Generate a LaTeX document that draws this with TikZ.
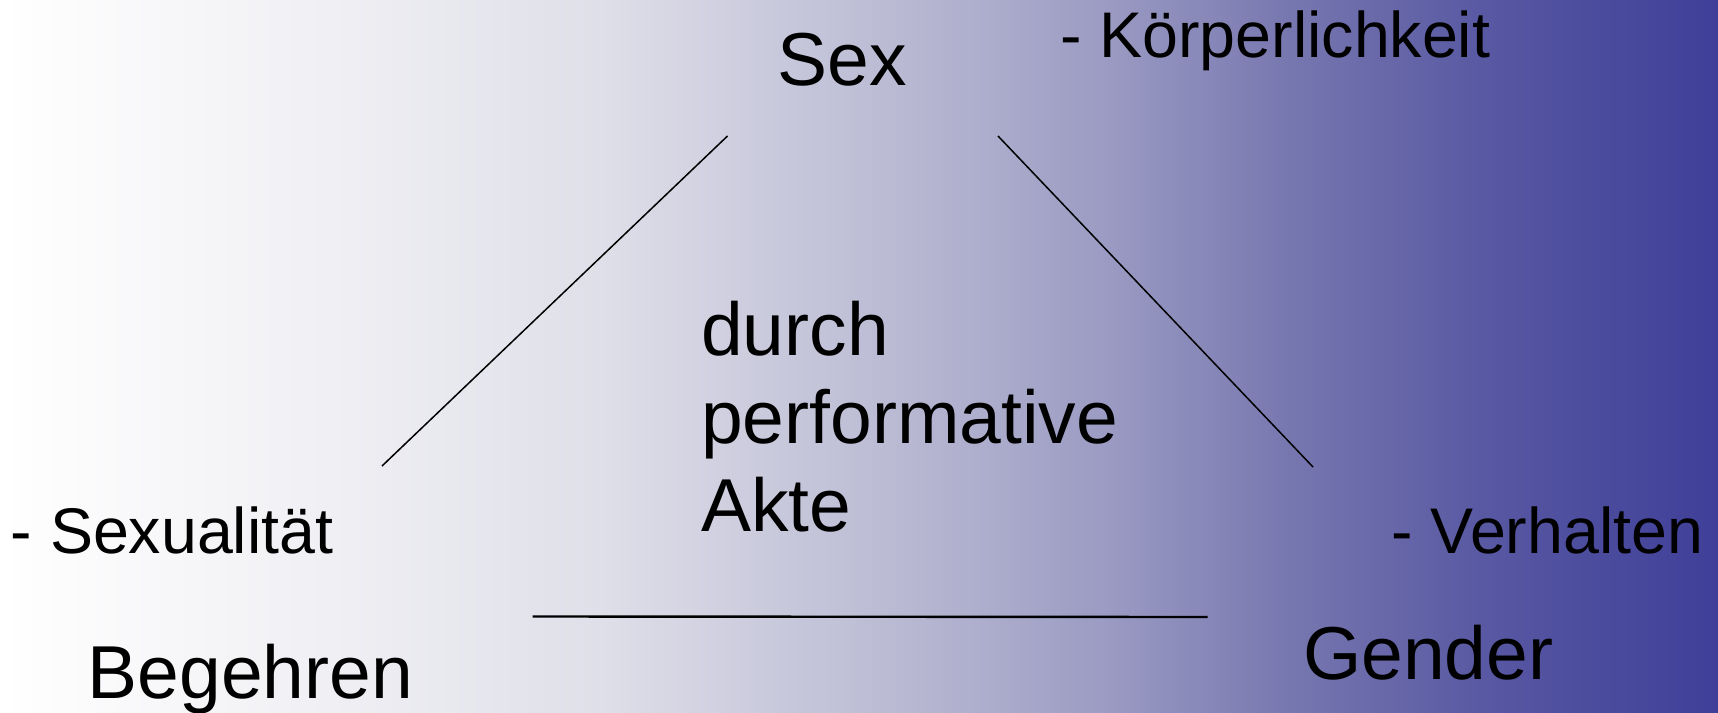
\documentclass[tikz,border=0pt]{standalone}
\usepackage{fontspec}
\setmainfont{Liberation Sans}
% background: white on the left, deepening to indigo on the right
% (the path is fitted to the 25bp..75bp band of the shading)
\pgfdeclarehorizontalshading{bgshade}{100bp}{%
  color(0bp)=(white);
  color(25bp)=(white);
  color(33.75bp)=(rgb,255:red,241;green,241;blue,245);
  color(42.5bp)=(rgb,255:red,223;green,223;blue,233);
  color(51.2bp)=(rgb,255:red,185;green,185;blue,211);
  color(57bp)=(rgb,255:red,156;green,156;blue,196);
  color(62.85bp)=(rgb,255:red,117;green,117;blue,175);
  color(68.65bp)=(rgb,255:red,86;green,86;blue,162);
  color(75bp)=(rgb,255:red,63;green,63;blue,153);
  color(100bp)=(rgb,255:red,63;green,63;blue,153)}
\begin{document}
\begin{tikzpicture}[x=1pt,y=-1pt,
  bigtext/.style={anchor=base west,inner sep=0pt,font=\fontsize{75}{88}\selectfont},
  smalltext/.style={anchor=base west,inner sep=0pt,font=\fontsize{64.5}{77}\selectfont},
  edge/.style={draw=black,line width=1.5pt},
  baseedge/.style={draw=black,line width=2.4pt}]
  \useasboundingbox (0,0) rectangle (1718,712);
  \shade[shading=bgshade] (0,0) rectangle (1718,712);

  % corner terms
  \node[bigtext] (sex) at (777.5,85) {Sex};
  \node[bigtext] (begehren) at (87.5,698) {Begehren};
  \node[bigtext] (gender) at (1303,679) {Gender};

  % attributes
  \node[smalltext] (koerper) at (1060,57) {- Körperlichkeit};
  \node[smalltext] (sexualitaet) at (10.5,553) {- Sexualität};
  \node[smalltext] (verhalten) at (1391,553) {- Verhalten};

  % centre (base anchor sits on the last line)
  \node[anchor=base west,inner sep=0pt,align=left,
        font=\fontsize{75}{87.7}\selectfont] (akte) at (701,531)
        {durch\\performative\\Akte};

  % triangle sides
  \coordinate (sexL) at (727.5,136);
  \coordinate (sexR) at (998,136);
  \coordinate (begT) at (382,466);
  \coordinate (genT) at (1313,467);
  \coordinate (begR) at (532.5,616.5);
  \coordinate (genL) at (1207.5,617);
  \draw[edge] (sexL) -- (begT);
  \draw[edge] (sexR) -- (genT);
  \draw[baseedge] (begR) -- (genL);
\end{tikzpicture}
\end{document}
